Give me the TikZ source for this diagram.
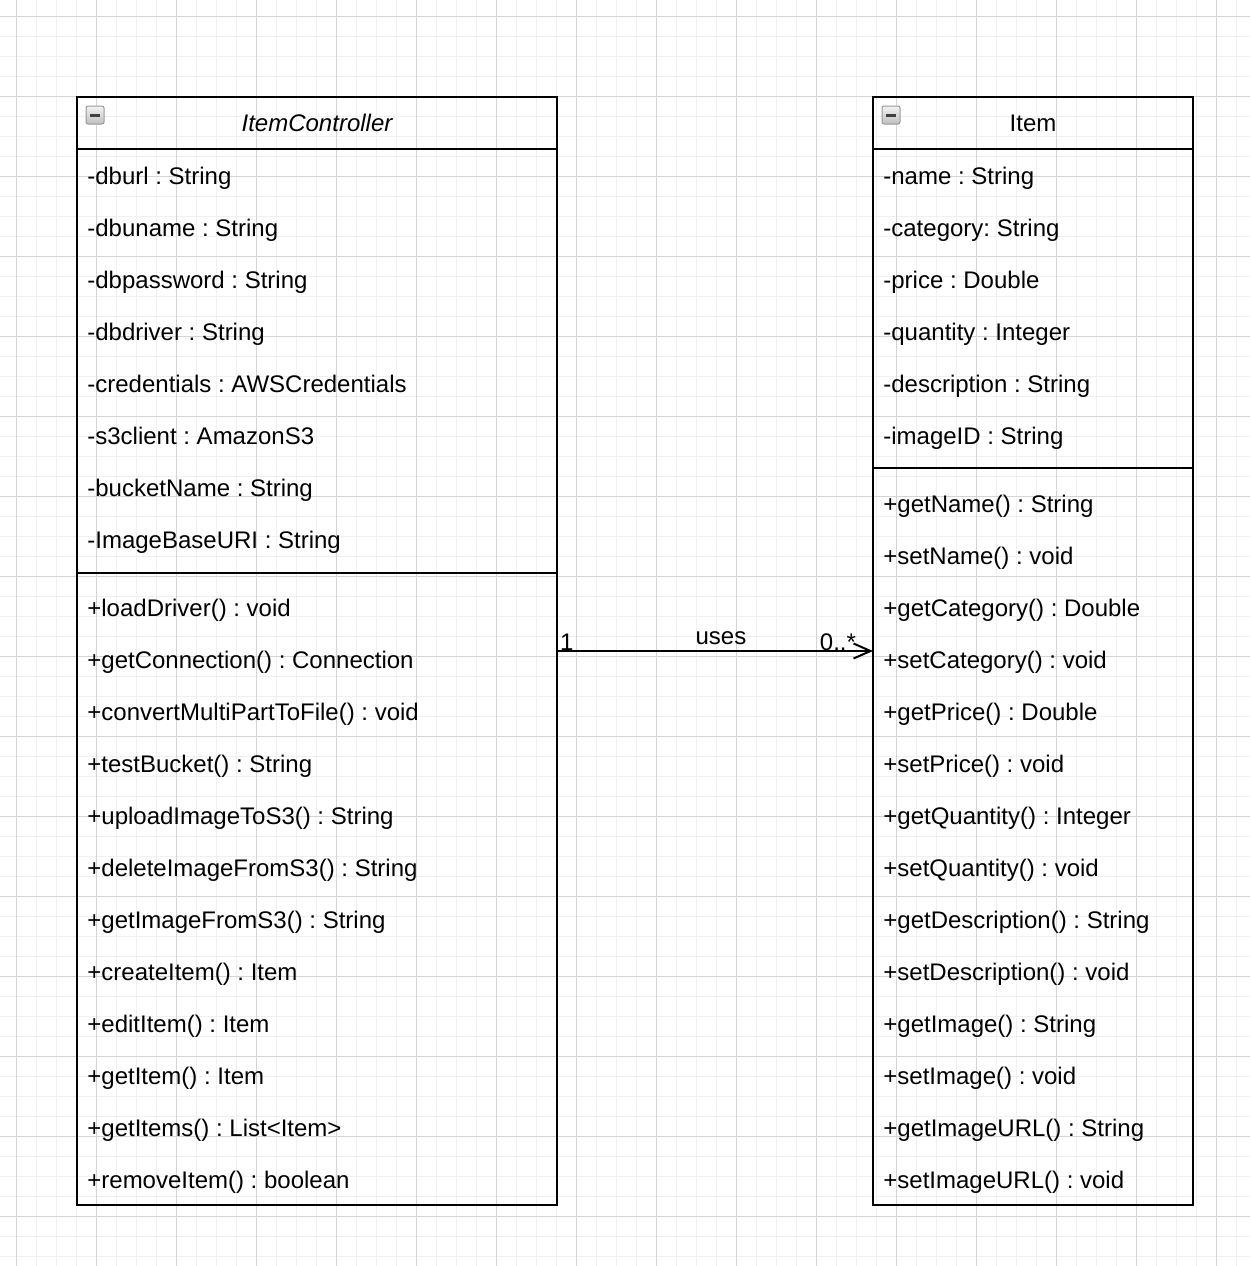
\documentclass[tikz,border=0pt]{standalone}
\usepackage{fontspec}
\setmainfont{Liberation Sans}
\usetikzlibrary{arrows.meta}
\frenchspacing

\begin{document}
\begin{tikzpicture}[x=0.5pt,y=-0.5pt,
  umlbox/.style={draw,line width=1pt,anchor=north west,inner sep=0pt,outer sep=0pt,minimum height=554pt},
  member/.style={anchor=base west,inner sep=0pt,font=\fontsize{12}{14}\selectfont},
  title/.style={anchor=base,inner sep=0pt,font=\fontsize{12}{14}\selectfont},
  minorline/.style={black!6,line width=0.5pt},
  majorline/.style={black!17,line width=0.5pt},
  assoc/.style={line width=1pt,-{Straight Barb[length=8.5pt,width=7.5pt]}}]
\def\rowH{52}
\useasboundingbox (0,0) rectangle (1250,1266);
  % background grid
  \foreach \g in {16,36,...,1256} {
    \draw[minorline] (\g,0) -- (\g,1266);
    \draw[minorline] (0,\g) -- (1250,\g);
  }
  \foreach \g in {16,96,...,1216} {
    \draw[majorline] (\g,0) -- (\g,1266);
    \draw[majorline] (0,\g) -- (1250,\g);
  }
\node[umlbox,minimum width=240pt] (ctrl) at (77,97) {};
\node[umlbox,minimum width=160pt] (item) at (873,97) {};
\draw[line width=1pt] (ctrl.west |- 0,149) -- (ctrl.east |- 0,149);
\draw[line width=1pt] (ctrl.west |- 0,573) -- (ctrl.east |- 0,573);
\draw[line width=1pt] (item.west |- 0,149) -- (item.east |- 0,149);
\draw[line width=1pt] (item.west |- 0,468) -- (item.east |- 0,468);
  % collapse icons
  \foreach \ix in {86,882} {
    \shade[top color=black!5,bottom color=black!25,draw=black!40,line width=0.5pt,rounded corners=1pt] (\ix,106) rectangle ++(18,18);
    \draw[black!75,line width=1.5pt] (\ix+4,115) -- ++(10,0);
  }
\node[title,font=\fontsize{12}{14}\selectfont\itshape] (ctrlname) at (317,131) {ItemController};
\node[title] (itemname) at (1033,131) {Item};
\foreach \t [count=\i] in {-dburl : String,-dbuname : String,-dbpassword : String,-dbdriver : String,
  -credentials : AWSCredentials,-s3client : AmazonS3,-bucketName : String,-ImageBaseURI : String}
  \node[member] (cf\i) at (87,132+\rowH*\i) {\t};
\foreach \t [count=\i] in {+loadDriver() : void,+getConnection() : Connection,+convertMultiPartToFile() : void,
  +testBucket() : String,+uploadImageToS3() : String,+deleteImageFromS3() : String,+getImageFromS3() : String,
  +createItem() : Item,+editItem() : Item,+getItem() : Item,+getItems() : List<Item>,+removeItem() : boolean}
  \node[member] (cm\i) at (87,564+\rowH*\i) {\t};
\foreach \t [count=\i] in {-name : String,-category: String,-price : Double,-quantity : Integer,
  -description : String,-imageID : String}
  \node[member] (if\i) at (883,132+\rowH*\i) {\t};
\foreach \t [count=\i] in {+getName() : String,+setName() : void,+getCategory() : Double,+setCategory() : void,
  +getPrice() : Double,+setPrice() : void,+getQuantity() : Integer,+setQuantity() : void,
  +getDescription() : String,+setDescription() : void,+getImage() : String,+setImage() : void,
  +getImageURL() : String,+setImageURL() : void}
  \node[member] (im\i) at (883,460+\rowH*\i) {\t};
\coordinate (yuses) at (0,651);
\draw[assoc] (ctrl.east |- yuses) -- (item.west |- yuses)
  node[member,pos=0,xshift=1pt,yshift=0.5pt] (mult1) {1}
  node[title,midway,xshift=3pt,yshift=3.5pt] (uses) {uses}
  node[member,anchor=base east,pos=1,xshift=-8pt,yshift=0.5pt] (mult2) {0..*};
\end{tikzpicture}
\end{document}
